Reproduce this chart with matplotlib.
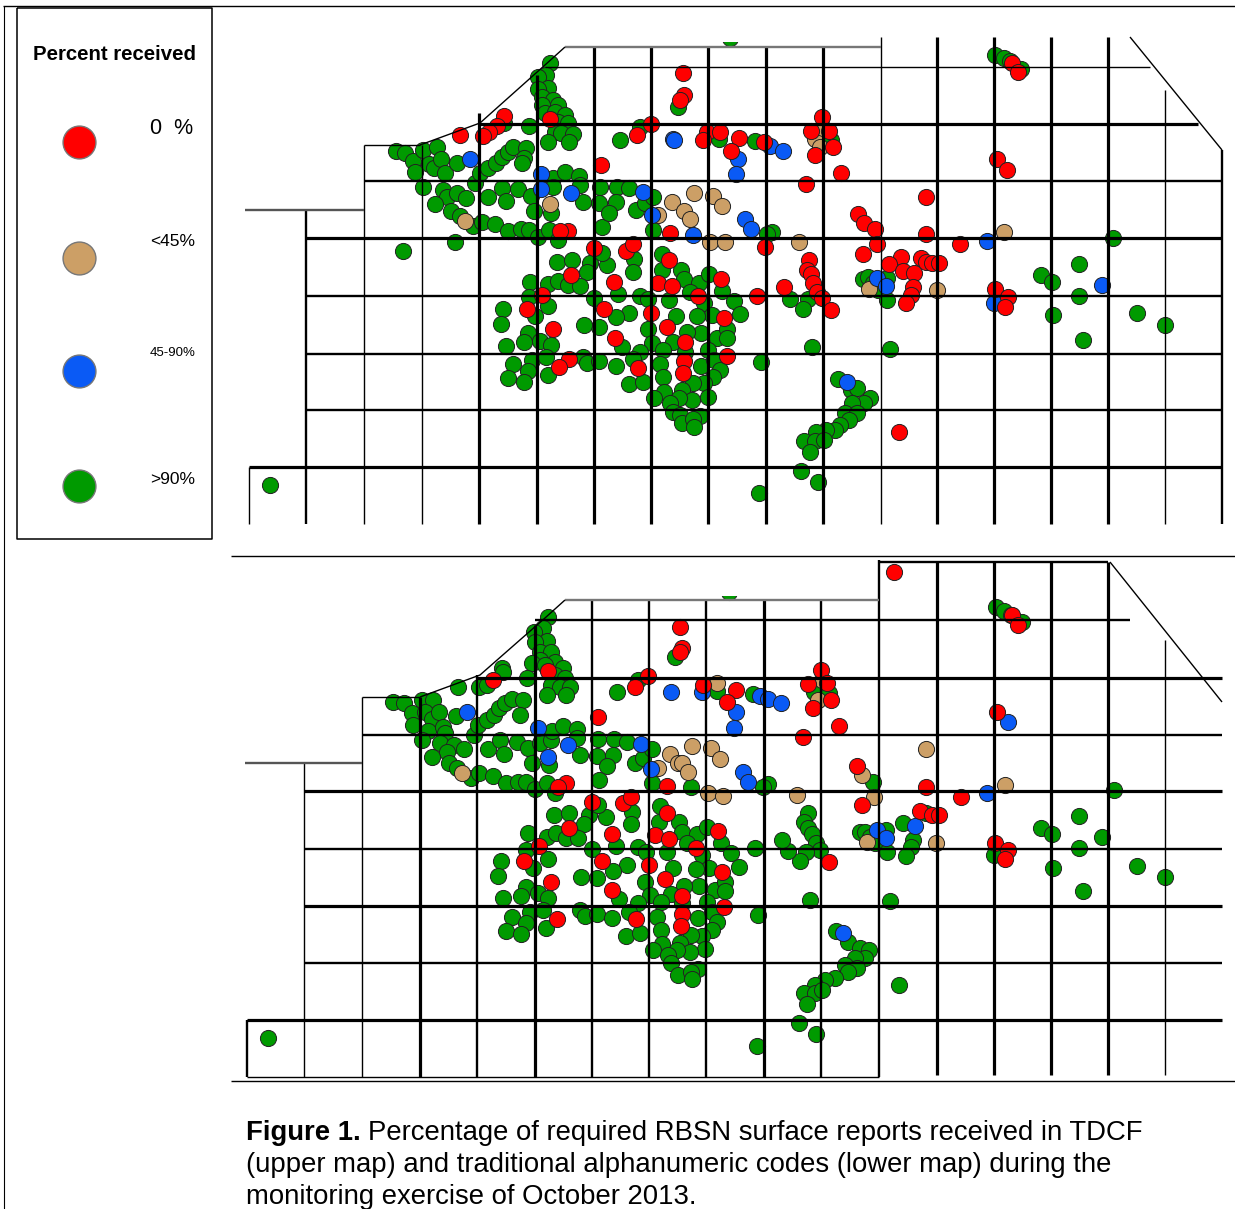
import matplotlib
matplotlib.use("Agg")
import matplotlib.pyplot as plt

# station positions (x, y in image pixels)
upper_green = [(396,151),(405,153),(413,161),(423,150),(437,147),(429,164),(434,168),(441,159),(415,172),(445,173),(457,163),(423,187),(443,190),(447,197),(457,193),(466,198),(435,204),(451,211),(460,216),(473,226),(482,222),(495,224),(508,231),(521,229),(529,230),(538,237),(549,230),(558,240),(455,242),(403,251),(475,183),(480,173),(488,168),(496,163),(502,157),(508,152),(513,147),(526,148),(524,158),(522,163),(502,188),(488,197),(506,201),(518,189),(531,196),(534,211),(551,213),(553,178),(553,187),(565,172),(579,176),(580,185),(583,202),(600,187),(599,203),(602,227),(617,187),(629,188),(616,202),(609,213),(636,210),(645,203),(653,197),(653,230),
    (550,63),(546,75),(538,77),(548,88),(538,89),(542,97),(553,100),(542,105),(558,105),(545,113),(555,112),(565,115),(558,122),(568,123),(529,126),(504,123),(555,132),(561,133),(573,134),(548,142),(569,142),(620,140),(640,127),
    (557,262),(572,260),(590,263),(607,265),(587,272),(602,253),(530,282),(548,284),(558,281),(568,285),(580,286),(529,297),(594,298),(618,294),(640,296),(648,299),(669,300),(634,259),(633,272),(662,254),(662,270),(681,270),(684,279),(699,283),(709,274),(690,292),(722,291),(704,303),(734,301),(740,314),(712,315),(697,316),(676,316),(629,313),(616,317),(599,327),(584,325),(648,329),(701,333),(687,332),(673,342),(652,343),(663,350),(640,352),(622,347),(717,338),(727,329),(727,338),(708,350),(503,309),(535,316),(548,306),(501,324),(528,333),(524,342),(540,341),(551,345),(506,346),(513,364),(532,360),(546,357),(528,371),(508,378),(524,382),(548,375),(583,357),(587,363),(599,361),(616,366),(633,359),(629,384),(643,382),(660,364),(663,377),(664,392),(654,398),(685,352),(701,366),(714,360),(720,370),(713,377),(704,383),(693,383),(682,390),(708,397),(692,400),(679,398),(670,403),(673,412),(680,415),(700,416),(682,423),(693,419),(694,427),(761,362),
    (719,139),(755,141),(678,107),(831,140),(772,232),(767,234),(863,279),(868,277),(873,283),(878,290),(887,278),(887,300),(790,299),(808,299),(803,309),
    (995,55),(1004,58),(1010,61),(1021,69),(730,38),(1113,238),(1079,264),(1041,275),(1052,282),(1079,296),(1053,315),(1137,313),(1165,325),(1083,340),(890,349),(812,347),
    (838,379),(851,390),(857,388),(870,398),(864,403),(852,403),(845,413),(857,413),(849,420),(840,425),(835,430),(826,430),(816,432),(804,441),(815,441),(824,440),(810,452),(801,471),(818,482),(759,493),(270,485)]
upper_tan = [(465,221),(550,204),(672,202),(658,215),(815,139),(823,128),(820,147),(694,193),(713,196),(722,206),(684,211),(690,219),(710,242),(725,242),(799,242),(869,289),(937,290),(1004,232)]
upper_blue = [(470,159),(541,174),(541,189),(571,193),(643,192),(652,215),(673,139),(674,140),(770,146),(783,151),(738,159),(736,174),(745,219),(751,229),(693,235),(877,278),(886,286),(987,241),(1102,285),(994,303),(847,382)]
upper_red = [(504,116),(497,126),(489,132),(483,136),(460,135),(550,119),(601,165),(568,231),(560,231),(637,135),(651,124),(594,248),(626,251),(633,244),(669,260),(670,233),(683,73),(684,95),(680,100),
    (571,275),(614,282),(658,283),(672,286),(721,279),(698,296),(757,296),(542,295),(527,309),(604,309),(651,313),(667,327),(553,329),(615,338),(724,318),(685,342),(727,356),(569,359),(559,367),(638,368),(684,361),(683,373),
    (707,132),(703,140),(720,132),(739,138),(731,151),(764,142),(822,117),(811,131),(829,131),(833,147),(815,155),(841,173),(806,184),(926,197),(858,214),(864,223),(875,229),(926,234),(877,244),(960,244),(765,247),(863,254),(809,260),(807,270),(811,274),(813,283),(817,292),(822,298),(831,310),(901,257),(889,264),(903,271),(914,273),(921,258),(926,262),(932,263),(939,263),(913,287),(911,295),(906,303),(784,287),
    (1012,63),(1018,72),(997,159),(1007,170),(995,289),(1008,297),(1005,307),(899,432)]

lower_green = [(393,702),(404,703),(412,713),(422,700),(433,700),(425,712),(432,719),(439,712),(413,725),(428,731),(443,727),(445,733),(456,716),(422,740),(440,743),(454,745),(464,749),(447,752),(432,757),(449,763),(457,768),(471,778),(479,773),(493,776),(506,783),(518,782),(526,782),(535,789),(547,783),(555,793),(474,735),(478,725),(487,720),(494,715),(499,708),(505,703),(512,699),(523,700),(520,715),(488,749),(500,740),(504,754),(517,742),(528,748),(540,743),(551,740),(552,731),(532,763),(549,765),(563,726),(577,729),(577,738),(580,755),(598,739),(597,756),(614,739),(627,742),(613,755),(607,766),(635,763),(643,758),(652,749),(652,783),(599,780),
    (548,617),(543,628),(534,632),(547,641),(535,642),(540,652),(551,652),(540,660),(532,663),(555,662),(545,665),(563,668),(555,675),(565,678),(527,678),(502,668),(503,672),(551,685),(560,687),(570,687),(547,695),(566,695),(617,692),(638,680),(458,687),(479,687),(487,685),
    (554,815),(569,813),(589,815),(606,817),(584,824),(598,805),(528,833),(547,837),(556,833),(566,838),(578,838),(526,850),(592,849),(616,846),(638,847),(646,852),(667,852),(632,812),(631,824),(660,806),(659,822),(679,822),(682,832),(697,834),(707,827),(687,843),(721,843),(702,855),(731,853),(739,867),(709,868),(696,869),(673,868),(627,865),(613,871),(597,878),(581,877),(645,882),(699,886),(684,886),(671,894),(650,895),(661,902),(638,903),(619,899),(715,890),(725,882),(725,891),(707,902),(501,861),(533,868),(548,859),(498,876),(526,887),(521,896),(538,893),(548,898),(503,898),(512,917),(530,912),(543,910),(526,923),(506,931),(521,934),(546,928),(580,910),(585,916),(597,914),(612,918),(629,912),(626,936),(640,933),(657,917),(661,930),(662,944),(653,950),(682,903),(698,918),(712,912),(717,922),(712,930),(702,936),(691,935),(680,943),(705,949),(690,952),(677,950),(668,955),(671,963),(678,975),(698,969),(691,972),(692,979),(758,915),(755,848),
    (717,691),(753,694),(814,692),(829,693),(675,657),(768,784),(763,787),(873,782),(808,813),(804,822),(808,828),(812,834),(816,843),(820,850),(806,852),(800,861),(788,851),(782,840),(926,813),(903,823),(913,840),(911,847),(906,856),(860,832),(865,832),(870,837),(875,843),(886,830),(887,852),(691,787),
    (996,607),(1004,611),(1011,615),(1022,622),(1114,790),(1041,828),(1052,834),(1079,816),(1102,837),(1079,848),(1053,868),(1137,866),(1165,877),(1083,891),(994,855),(890,901),(810,900),
    (836,931),(848,942),(860,948),(869,950),(865,958),(855,958),(845,965),(857,968),(848,972),(835,978),(825,980),(815,985),(804,993),(815,993),(822,990),(807,1004),(899,985),(799,1023),(816,1034),(757,1046),(268,1038),(729,592)]
lower_tan = [(462,773),(670,754),(658,768),(678,763),(692,746),(711,748),(720,759),(682,763),(688,772),(708,793),(723,796),(797,795),(717,683),(822,680),(818,700),(862,775),(874,797),(926,749),(867,842),(936,843),(1005,785)]
lower_blue = [(467,712),(538,728),(548,757),(568,745),(641,744),(651,769),(671,692),(702,692),(760,696),(768,699),(781,703),(736,712),(734,728),(743,772),(748,782),(915,826),(877,830),(886,838),(843,933),(1008,722),(987,793)]
lower_red = [(493,680),(548,671),(598,717),(566,783),(558,787),(635,687),(648,676),(592,802),(623,803),(631,797),(667,813),(667,786),(680,627),(682,648),(680,652),
    (569,828),(612,834),(655,835),(669,839),(718,831),(696,848),(539,846),(524,861),(602,861),(649,865),(665,879),(551,882),(612,890),(722,872),(682,896),(724,907),(557,919),(636,919),(682,914),(681,926),
    (703,685),(736,690),(727,702),(821,670),(808,684),(827,683),(831,700),(813,708),(839,726),(803,737),(857,766),(926,787),(961,797),(862,805),(920,811),(932,815),(939,815),(829,862),
    (894,572),(1012,615),(1018,625),(997,712),(995,843),(1008,850),(1005,859)]

legend_labels = ["0  %", "<45%", "45-90%", ">90%"]
title_legend = "Percent received"
colors = ["#ff0000", "#cc9f66", "#0a5af5", "#009a00"]

fig = plt.figure(figsize=(12.35, 12.09), dpi=100)
ax = fig.add_axes([0, 0, 1, 1])
ax.set_xlim(0, 1235)
ax.set_ylim(1209, 0)
ax.axis("off")

THICK, MID, THIN = 2.3, 1.7, 1.0


def stations(green, tan, blue, red):
    for pts, col in [(green, colors[3]), (tan, colors[1]), (blue, colors[2]), (red, colors[0])]:
        ax.scatter([p[0] for p in pts], [p[1] for p in pts], s=135, c=col,
                   edgecolors="#222222", linewidths=0.7, zorder=2)


def seg(xs, ys, lw, col="black"):
    ax.plot(xs, ys, color=col, lw=lw, zorder=3, solid_capstyle="butt")


# upper map grid
for x, y0, lw in [(306,210,MID),(364,145,THIN),(422,145,THIN),(479,113,THICK),(537,75,THICK),(594,47,THICK),(651,47,THICK),(708,47,THICK),(766,47,THICK),(823,47,THICK),(881,37,THIN),(937,37,THICK),(994,37,THICK),(1051,37,THICK),(1108,37,THICK),(1165,90,THIN),(1222,150,MID)]:
    seg([x, x], [y0, 524], lw)
for y, x0, x1, lw in [(67,545,1150,THIN),(124,478,1198,THICK),(181,364,1222,MID),(238,306,1222,THICK),(296,306,1222,MID),(354,306,1222,MID),(410,306,1222,MID),(467,249,1222,THICK)]:
    seg([x0, x1], [y, y], lw)
seg([565, 881], [47, 47], MID, "#777777")
seg([245, 364], [210, 210], MID, "#555555")
seg([364, 420], [145, 145], THIN)
seg([249, 249], [467, 524], THIN)
seg([420, 480, 545, 565], [145, 123, 65, 47], THIN)
seg([1130, 1222], [37, 150], THIN)

# lower map grid
for x, y0, lw in [(304,763,THIN),(362,697,THIN),(420,697,THICK),(477,675,MID),(535,625,THICK),(592,600,MID),(649,600,MID),(706,600,MID),(764,600,THICK),(821,600,MID),(879,560,MID)]:
    seg([x, x], [y0, 1077], lw)
for x, y0, lw in [(937,562,THICK),(994,562,THICK),(1051,562,THICK),(1108,562,THICK),(1165,640,THIN)]:
    seg([x, x], [y0, 1075], lw)
for y, x0, x1, lw in [(620,535,1130,MID),(678,477,1222,THICK),(735,362,1222,MID),(791,304,1222,THICK),(849,304,1222,MID),(906,304,1222,THICK),(963,304,1222,MID),(1020,247,1222,THICK)]:
    seg([x0, x1], [y, y], lw)
seg([247, 879], [1077, 1077], THIN)
seg([247, 247], [1020, 1077], MID)
seg([565, 879], [600, 600], MID, "#777777")
seg([879, 1108], [562, 562], MID)
seg([245, 362], [763, 763], MID, "#555555")
seg([362, 420], [697, 697], THIN)
seg([420, 480, 545, 565], [697, 675, 618, 600], THIN)
seg([1110, 1222], [562, 702], THIN)

stations(upper_green, upper_tan, upper_blue, upper_red)
stations(lower_green, lower_tan, lower_blue, lower_red)

# the map images cut these two stations off at their top edge
ax.fill_between([715, 745], 20, 42, color="white", lw=0, zorder=2.5)
ax.fill_between([715, 745], 575, 596, color="white", lw=0, zorder=2.5)

# page rules
seg([3, 1235], [6, 6], 1.0)
seg([3.5, 3.5], [6, 1209], 0.8)
seg([231, 1235], [556, 556], 1.0)
seg([231, 1235], [1081, 1081], 1.0)

# legend box
seg([17, 212, 212, 17, 17], [7.5, 7.5, 539, 539, 7.5], 1.1)
cap = "Liberation Sans"
ax.text(114.5, 55, title_legend, family=cap, weight="bold", fontsize=14.7, ha="center", va="center")
legend_y = [142, 258, 371, 486]
label_y = [129, 241, 353, 480]
label_size = [15.5, 12.5, 9.5, 12.5]
for y, ly, c, lab, fs in zip(legend_y, label_y, colors, legend_labels, label_size):
    ax.scatter([79], [y], s=560, c=c, edgecolors="#777777", linewidths=1.0, zorder=2)
    ax.text(150, ly, lab, family=cap, fontsize=fs, va="center")

# caption
ax.text(245.5, 1133, "Figure 1.", family=cap, weight="bold", fontsize=19.8, va="center")
ax.text(368, 1133, "Percentage of required RBSN surface reports received in TDCF", family=cap, fontsize=19.8, va="center")
ax.text(245.5, 1165, "(upper map) and traditional alphanumeric codes (lower map) during the", family=cap, fontsize=19.8, va="center")
ax.text(245.5, 1197, "monitoring exercise of October 2013.", family=cap, fontsize=19.8, va="center")

fig.savefig("out.png", dpi=100, facecolor="white")
